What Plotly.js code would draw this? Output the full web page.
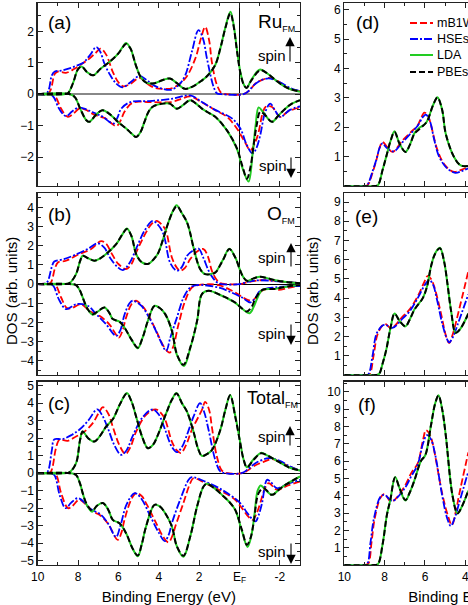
<!DOCTYPE html>
<html>
<head>
<meta charset="utf-8">
<script src="https://cdn.plot.ly/plotly-3.0.1.min.js"></script>
<style>
  html, body { margin: 0; padding: 0; overflow: hidden; background: #fff; }
  #plot { width: 620px; height: 605px; }
</style>
</head>
<body>
<div id="plot"></div>
<script>
// [binding energy (eV), DOS]

// (a) Ru, spin up
const ruUpMB1WC = [[10,0],[9.5,0],[9.35,0.15],[9.15,0.65],[9.0,0.72],[8.6,0.68],[8.2,0.8],[7.9,0.93],[7.5,1.1],[7.15,1.3],[6.88,1.45],[6.6,1.25],[6.28,0.71],[6.0,0.38],[5.75,0.25],[5.4,0.33],[4.95,0.52],[4.6,0.35],[4.2,0.2],[3.8,0.17],[3.3,0.2],[2.69,0.5],[2.19,1.13],[1.9,1.8],[1.7,2.14],[1.5,1.7],[1.37,1.03],[1.12,0.3],[0.87,0.02],[0.7,0],[-0.2,0],[-0.5,0.12],[-0.79,0.34],[-1.1,0.45],[-1.55,0.52],[-2.0,0.38],[-2.44,0.18],[-3,0.1]];
const ruUpHSEsol = [[10,0],[9.6,0],[9.45,0.15],[9.3,0.6],[9.15,0.72],[8.8,0.75],[8.43,0.82],[8.1,0.9],[7.74,1.0],[7.4,1.25],[7.1,1.5],[6.9,1.35],[6.69,0.97],[6.4,0.6],[6.11,0.34],[5.8,0.22],[5.4,0.38],[4.96,0.58],[4.6,0.45],[4.3,0.3],[3.85,0.18],[3.38,0.14],[3.0,0.3],[2.69,0.6],[2.36,1.35],[2.03,2.04],[1.8,1.75],[1.61,1.13],[1.28,0.23],[1.12,0.03],[0.9,0],[-0.2,0],[-0.45,0.1],[-0.7,0.28],[-1.0,0.42],[-1.45,0.5],[-2.0,0.38],[-2.5,0.2],[-3,0.1]];
const ruUpLDA = [[10,0],[8.7,0],[8.5,0.03],[8.25,0.35],[8.0,0.8],[7.82,0.88],[7.55,0.7],[7.25,0.6],[6.9,0.8],[6.4,1.05],[6.0,1.3],[5.75,1.54],[5.62,1.63],[5.4,1.45],[5.15,0.95],[4.9,0.55],[4.6,0.36],[4.2,0.35],[3.8,0.45],[3.45,0.5],[3.1,0.35],[2.7,0.17],[2.3,0.25],[1.9,0.42],[1.6,0.58],[1.2,0.93],[0.95,1.45],[0.7,2.12],[0.45,2.62],[0.3,2.25],[0.12,1.4],[-0.05,0.68],[-0.22,0.3],[-0.35,0.2],[-0.6,0.47],[-1.0,0.78],[-1.4,0.65],[-1.78,0.45],[-2.1,0.3],[-2.44,0.18],[-3,0.08]];
const ruUpPBEsol = [[10,0],[8.7,0],[8.5,0.03],[8.25,0.35],[8.0,0.8],[7.82,0.88],[7.55,0.7],[7.25,0.6],[6.9,0.8],[6.4,1.05],[6.0,1.3],[5.75,1.52],[5.62,1.6],[5.4,1.45],[5.15,0.95],[4.9,0.55],[4.6,0.36],[4.2,0.35],[3.8,0.45],[3.45,0.5],[3.1,0.35],[2.7,0.17],[2.3,0.25],[1.9,0.42],[1.6,0.58],[1.2,0.93],[0.95,1.45],[0.7,2.1],[0.45,2.57],[0.3,2.2],[0.12,1.35],[-0.05,0.66],[-0.22,0.29],[-0.35,0.2],[-0.6,0.45],[-1.03,0.76],[-1.4,0.65],[-1.78,0.45],[-2.1,0.3],[-2.44,0.18],[-3,0.08]];
// (a) Ru, spin down
const ruDnMB1WC = [[10,0],[9.3,0],[9.1,-0.1],[8.85,-0.45],[8.51,-0.72],[8.2,-0.6],[7.94,-0.46],[7.6,-0.5],[7.35,-0.6],[7.0,-0.7],[6.61,-0.78],[6.3,-0.95],[6.1,-1.02],[5.9,-0.85],[5.7,-0.56],[5.29,-0.27],[4.46,-0.25],[3.38,-0.25],[2.85,-0.14],[2.44,-0.07],[1.86,-0.26],[1.2,-0.51],[0.62,-0.72],[0.12,-1.1],[-0.25,-1.5],[-0.54,-1.78],[-0.8,-1.5],[-0.95,-1.2],[-1.15,-0.6],[-1.3,-0.4],[-1.6,-0.4],[-2.02,-0.72],[-2.4,-0.55],[-3,-0.42]];
const ruDnHSEsol = [[10,0],[9.4,0],[9.2,-0.1],[8.95,-0.45],[8.6,-0.7],[8.3,-0.55],[8.0,-0.43],[7.6,-0.48],[7.35,-0.55],[7.0,-0.65],[6.77,-0.72],[6.45,-0.88],[6.25,-0.94],[6.05,-0.75],[5.86,-0.46],[5.4,-0.25],[4.46,-0.22],[3.3,-0.14],[2.44,-0.04],[1.86,-0.25],[1.2,-0.5],[0.37,-0.77],[-0.05,-1.1],[-0.35,-1.6],[-0.65,-1.89],[-0.85,-1.7],[-1.03,-1.3],[-1.28,-0.56],[-1.53,-0.3],[-1.75,-0.5],[-2.02,-0.72],[-2.5,-0.5],[-3,-0.39]];
const ruDnLDA = [[10,0],[8.4,0],[8.15,-0.1],[7.9,-0.45],[7.6,-0.82],[7.44,-0.88],[7.1,-0.65],[6.8,-0.51],[6.5,-0.6],[6.28,-0.72],[5.9,-0.95],[5.6,-1.1],[5.35,-1.25],[5.12,-1.36],[4.9,-1.2],[4.71,-0.88],[4.5,-0.55],[4.3,-0.4],[3.8,-0.3],[3.45,-0.3],[3.1,-0.46],[2.8,-0.35],[2.44,-0.19],[2.15,-0.3],[1.86,-0.46],[1.5,-0.6],[1.2,-0.72],[0.62,-1.15],[0.12,-1.75],[-0.15,-2.35],[-0.45,-2.78],[-0.65,-1.9],[-0.8,-1.0],[-0.95,-0.42],[-1.15,-0.55],[-1.6,-0.88],[-1.9,-0.7],[-2.27,-0.46],[-2.6,-0.3],[-3,-0.19]];
const ruDnPBEsol = [[10,0],[8.4,0],[8.15,-0.1],[7.9,-0.45],[7.6,-0.82],[7.44,-0.88],[7.1,-0.65],[6.8,-0.51],[6.5,-0.6],[6.28,-0.72],[5.9,-0.95],[5.6,-1.1],[5.35,-1.25],[5.12,-1.36],[4.9,-1.2],[4.71,-0.88],[4.5,-0.55],[4.3,-0.4],[3.8,-0.3],[3.45,-0.3],[3.1,-0.46],[2.8,-0.35],[2.44,-0.19],[2.15,-0.3],[1.86,-0.46],[1.5,-0.6],[1.2,-0.72],[0.62,-1.15],[0.12,-1.73],[-0.15,-2.3],[-0.37,-2.69],[-0.55,-2.3],[-0.7,-1.63],[-0.85,-1.0],[-1.03,-0.56],[-1.25,-0.65],[-1.61,-0.88],[-1.9,-0.7],[-2.27,-0.46],[-2.6,-0.3],[-3,-0.19]];

// (b) O, spin up
const oUpMB1WC = [[10,0],[9.5,0],[9.34,0.1],[9.15,0.8],[9.0,1.13],[8.6,1.22],[7.94,1.57],[7.35,1.83],[6.86,2.25],[6.6,2.1],[6.36,1.65],[6.0,1.05],[5.62,0.79],[5.35,1.05],[5.12,1.65],[4.63,2.7],[4.35,3.15],[4.1,3.3],[3.85,3.1],[3.65,2.8],[3.35,1.39],[3.1,0.85],[2.94,0.7],[2.7,0.85],[2.44,1.31],[2.1,1.7],[1.78,1.83],[1.55,1.4],[1.37,0.7],[1.15,0.25],[0.95,0.05],[0.7,0],[0,0],[-0.4,0.1],[-1.0,0.2],[-1.5,0.2],[-2.2,0.12],[-3,0.05]];
const oUpHSEsol = [[10,0],[9.65,0],[9.5,0.15],[9.3,0.9],[9.18,1.18],[8.7,1.3],[8.1,1.55],[7.5,1.85],[7.02,2.13],[6.7,1.9],[6.4,1.35],[6.05,0.9],[5.78,0.73],[5.45,1.1],[5.1,1.9],[4.7,2.8],[4.3,3.3],[4.0,3.05],[3.8,2.7],[3.68,2.27],[3.43,1.1],[3.1,0.7],[2.85,0.9],[2.6,1.48],[2.3,1.75],[2.03,1.86],[1.8,1.4],[1.53,0.7],[1.3,0.3],[1.12,0.1],[0.9,0],[0,0],[-0.4,0.12],[-1.0,0.2],[-1.5,0.18],[-2.2,0.12],[-3,0.05]];
const oUpLDA = [[10,0],[8.7,0],[8.43,0.05],[8.1,0.52],[7.9,1.2],[7.77,1.48],[7.5,1.35],[7.19,1.22],[6.9,1.35],[6.61,1.57],[6.11,2.09],[5.8,2.6],[5.58,2.9],[5.35,2.5],[5.12,1.57],[4.85,1.15],[4.54,1.05],[4.25,1.3],[4.04,1.6],[3.8,2.3],[3.55,3.14],[3.3,3.82],[3.12,4.12],[2.85,3.7],[2.6,3.23],[2.45,2.7],[2.28,1.92],[1.95,0.79],[1.7,0.52],[1.2,0.62],[0.95,1.02],[0.79,1.33],[0.5,1.85],[0.21,1.4],[-0.04,0.7],[-0.2,0.35],[-0.37,0.17],[-0.7,0.3],[-1.03,0.38],[-1.4,0.3],[-1.78,0.2],[-2.4,0.1],[-3,0.05]];
const oUpPBEsol = [[10,0],[8.7,0],[8.43,0.05],[8.1,0.52],[7.9,1.2],[7.77,1.48],[7.5,1.35],[7.19,1.22],[6.9,1.35],[6.61,1.57],[6.11,2.09],[5.8,2.6],[5.58,2.88],[5.35,2.5],[5.12,1.57],[4.85,1.15],[4.54,1.05],[4.25,1.3],[4.04,1.6],[3.8,2.3],[3.55,3.14],[3.3,3.8],[3.1,4.08],[2.85,3.7],[2.6,3.23],[2.45,2.7],[2.28,1.92],[1.95,0.79],[1.7,0.52],[1.2,0.6],[0.95,1.0],[0.79,1.31],[0.5,1.83],[0.21,1.39],[-0.04,0.7],[-0.2,0.35],[-0.37,0.17],[-0.7,0.3],[-1.03,0.38],[-1.4,0.3],[-1.78,0.2],[-2.4,0.1],[-3,0.05]];
// (b) O, spin down
const oDnMB1WC = [[10,0],[9.3,0],[9.09,-0.1],[8.84,-0.7],[8.55,-1.25],[8.3,-1.25],[7.85,-1.05],[7.44,-1.4],[6.94,-1.66],[6.45,-2.1],[6.2,-2.5],[5.98,-2.8],[5.8,-2.45],[5.62,-1.75],[5.35,-1.05],[5.12,-0.87],[4.9,-1.05],[4.63,-1.4],[4.13,-2.44],[3.72,-3.32],[3.47,-3.58],[3.3,-3.32],[3.02,-2.1],[2.69,-0.87],[2.36,-0.18],[2.03,-0.05],[1.04,-0.05],[0.37,-0.35],[-0.04,-0.61],[-0.4,-0.82],[-0.62,-0.87],[-0.85,-0.65],[-1.12,-0.35],[-1.61,-0.22],[-1.94,-0.3],[-2.4,-0.2],[-3,-0.08]];
const oDnHSEsol = [[10,0],[9.4,0],[9.22,-0.1],[8.95,-0.8],[8.6,-1.31],[8.35,-1.2],[8.1,-1.05],[7.52,-1.13],[7.1,-1.57],[6.61,-2.1],[6.11,-2.71],[5.9,-2.4],[5.7,-1.6],[5.45,-1.0],[5.29,-0.87],[4.87,-1.13],[4.3,-2.1],[3.9,-3.0],[3.63,-3.49],[3.43,-2.8],[3.1,-1.75],[2.77,-0.7],[2.44,-0.18],[2.11,-0.05],[1.04,-0.18],[0.37,-0.45],[-0.13,-0.7],[-0.54,-0.96],[-0.8,-0.7],[-1.03,-0.35],[-1.78,-0.17],[-3,-0.1]];
const oDnLDA = [[10,0],[8.4,0],[8.1,-0.05],[7.9,-0.35],[7.77,-0.7],[7.52,-1.31],[7.27,-1.6],[7.0,-1.42],[6.69,-1.22],[6.45,-1.5],[6.28,-1.83],[5.95,-1.96],[5.7,-2.27],[5.35,-2.9],[5.04,-3.35],[4.8,-2.8],[4.54,-1.92],[4.21,-1.14],[3.95,-1.25],[3.68,-1.57],[3.35,-2.44],[3.1,-3.7],[2.75,-4.28],[2.44,-3.35],[2.1,-1.92],[1.86,-0.52],[1.53,-0.35],[0.87,-0.61],[0.21,-0.98],[-0.15,-1.3],[-0.5,-1.52],[-0.7,-1.2],[-0.9,-0.7],[-1.12,-0.31],[-1.78,-0.25],[-2.4,-0.12],[-3,-0.05]];
const oDnPBEsol = [[10,0],[8.4,0],[8.1,-0.05],[7.9,-0.35],[7.77,-0.7],[7.52,-1.31],[7.27,-1.57],[7.0,-1.4],[6.69,-1.22],[6.45,-1.5],[6.28,-1.83],[5.95,-1.96],[5.7,-2.27],[5.35,-2.9],[5.04,-3.32],[4.8,-2.8],[4.54,-1.92],[4.21,-1.14],[3.95,-1.25],[3.68,-1.57],[3.35,-2.44],[3.1,-3.66],[2.78,-4.22],[2.44,-3.32],[2.1,-1.92],[1.86,-0.52],[1.53,-0.35],[0.87,-0.61],[0.21,-0.96],[-0.1,-1.25],[-0.37,-1.43],[-0.6,-1.2],[-0.78,-0.78],[-1.12,-0.31],[-1.78,-0.25],[-2.4,-0.12],[-3,-0.05]];

// (c) Total, spin up
const totUpMB1WC = [[10,0],[9.5,0],[9.34,0.1],[9.1,1.4],[8.93,1.9],[8.51,1.85],[8.1,2.1],[7.77,2.3],[7.27,2.86],[6.95,3.5],[6.77,3.78],[6.5,3.4],[6.28,2.66],[5.95,1.6],[5.65,1.1],[5.4,1.5],[5.12,2.38],[4.63,3.33],[4.16,3.65],[3.9,3.45],[3.68,3.05],[3.35,1.81],[3.1,1.3],[2.9,1.15],[2.65,1.6],[2.36,2.47],[1.86,3.62],[1.7,4.08],[1.5,3.6],[1.37,2.66],[1.12,0.95],[0.87,0.15],[0.6,0],[-0.12,0],[-0.4,0.15],[-0.79,0.45],[-1.2,0.65],[-1.61,0.8],[-2.0,0.65],[-2.44,0.4],[-3,0.15]];
const totUpHSEsol = [[10,0],[9.65,0],[9.5,0.1],[9.3,1.3],[9.18,1.93],[8.76,1.95],[8.3,2.2],[7.94,2.48],[7.5,3.0],[7.05,3.65],[6.8,3.3],[6.5,2.5],[6.2,1.6],[5.87,1.05],[5.6,1.3],[5.3,2.1],[4.8,3.2],[4.3,3.65],[4.0,3.35],[3.68,2.47],[3.35,1.5],[3.1,1.2],[2.85,1.5],[2.6,2.19],[2.28,3.23],[1.95,4.0],[1.75,3.5],[1.53,2.47],[1.2,0.76],[0.95,0.1],[0.7,0],[-0.1,0],[-0.4,0.2],[-0.79,0.57],[-1.45,0.86],[-2.0,0.7],[-2.44,0.42],[-3,0.15]];
const totUpLDA = [[10,0],[8.7,0],[8.43,0.05],[8.1,0.57],[7.9,1.9],[7.77,2.38],[7.5,2.0],[7.19,1.81],[6.9,2.15],[6.61,2.66],[6.28,3.08],[5.9,4.0],[5.58,4.58],[5.35,4.1],[5.12,3.23],[4.8,2.0],[4.54,1.43],[4.3,1.6],[4.04,2.19],[3.63,3.43],[3.35,4.2],[3.12,4.58],[2.85,4.0],[2.6,3.52],[2.28,2.38],[2.05,1.4],[1.86,0.99],[1.6,1.1],[1.36,1.33],[0.95,2.47],[0.7,3.62],[0.46,4.47],[0.21,3.3],[-0.04,1.75],[-0.2,0.8],[-0.37,0.34],[-0.7,0.8],[-1.07,1.16],[-1.4,1.0],[-1.78,0.76],[-2.44,0.34],[-3,0.15]];
const totUpPBEsol = [[10,0],[8.7,0],[8.43,0.05],[8.1,0.57],[7.9,1.9],[7.77,2.38],[7.5,2.0],[7.19,1.81],[6.9,2.15],[6.61,2.66],[6.28,3.08],[5.9,4.0],[5.58,4.55],[5.35,4.1],[5.12,3.23],[4.8,2.0],[4.54,1.43],[4.3,1.6],[4.04,2.19],[3.63,3.43],[3.35,4.2],[3.12,4.55],[2.85,4.0],[2.6,3.52],[2.28,2.38],[2.05,1.4],[1.86,0.99],[1.6,1.1],[1.36,1.33],[0.95,2.47],[0.7,3.62],[0.46,4.45],[0.21,3.23],[-0.04,1.71],[-0.2,0.8],[-0.37,0.34],[-0.7,0.76],[-1.07,1.14],[-1.4,1.0],[-1.78,0.76],[-2.44,0.34],[-3,0.15]];
// (c) Total, spin down
const totDnMB1WC = [[10,0],[9.3,0],[9.09,-0.1],[8.84,-1.14],[8.5,-2.0],[8.3,-1.9],[7.94,-1.52],[7.6,-1.8],[7.27,-2.19],[6.94,-2.38],[6.53,-2.86],[6.03,-3.81],[5.85,-3.4],[5.7,-2.67],[5.37,-1.52],[5.12,-1.14],[4.85,-1.3],[4.63,-1.71],[4.13,-2.86],[3.8,-3.6],[3.52,-3.95],[3.3,-3.5],[3.18,-3.05],[2.78,-1.71],[2.44,-0.57],[2.28,-0.29],[1.7,-0.57],[0.87,-1.05],[0.21,-1.52],[-0.12,-2.0],[-0.45,-2.5],[-0.65,-2.67],[-0.85,-2.3],[-1.03,-1.71],[-1.25,-0.9],[-1.45,-0.57],[-1.86,-0.95],[-2.4,-0.7],[-3,-0.48]];
const totDnHSEsol = [[10,0],[9.4,0],[9.18,-0.1],[8.9,-1.3],[8.62,-2.0],[8.35,-1.7],[8.02,-1.43],[7.7,-1.65],[7.44,-2.0],[6.86,-2.38],[6.5,-2.9],[6.12,-3.65],[5.9,-3.0],[5.6,-1.8],[5.2,-1.14],[4.9,-1.4],[4.4,-2.5],[4.0,-3.4],[3.7,-3.88],[3.5,-3.5],[3.35,-2.86],[2.94,-1.52],[2.52,-0.38],[2.36,-0.23],[1.7,-0.48],[0.87,-0.95],[-0.04,-1.71],[-0.4,-2.3],[-0.79,-2.76],[-0.95,-2.4],[-1.12,-1.7],[-1.37,-0.38],[-1.55,-0.5],[-1.86,-0.86],[-2.4,-0.6],[-3,-0.38]];
const totDnLDA = [[10,0],[8.4,0],[8.1,-0.1],[7.9,-0.6],[7.77,-1.14],[7.6,-1.75],[7.44,-2.05],[7.3,-2.2],[7.05,-1.85],[6.77,-1.71],[6.5,-2.1],[6.28,-2.67],[5.95,-2.86],[5.62,-3.43],[5.3,-4.3],[5.04,-4.75],[4.85,-4.1],[4.63,-3.05],[4.21,-1.81],[3.95,-1.9],[3.68,-2.29],[3.35,-3.05],[3.1,-4.19],[2.78,-4.78],[2.44,-3.62],[2.1,-1.9],[1.78,-0.76],[1.61,-0.61],[1.2,-0.9],[0.87,-1.24],[0.5,-1.65],[0.21,-2.1],[-0.12,-3.3],[-0.4,-4.22],[-0.6,-3.5],[-0.75,-2.3],[-0.9,-1.0],[-1.05,-0.7],[-1.25,-0.9],[-1.61,-1.24],[-1.95,-0.95],[-2.27,-0.67],[-3,-0.19]];
const totDnPBEsol = [[10,0],[8.4,0],[8.1,-0.1],[7.9,-0.6],[7.77,-1.14],[7.6,-1.7],[7.44,-2.0],[7.3,-2.15],[7.05,-1.85],[6.77,-1.71],[6.5,-2.1],[6.28,-2.67],[5.95,-2.86],[5.62,-3.43],[5.3,-4.3],[5.04,-4.7],[4.85,-4.1],[4.63,-3.05],[4.21,-1.81],[3.95,-1.9],[3.68,-2.29],[3.35,-3.05],[3.1,-4.19],[2.78,-4.72],[2.44,-3.62],[2.1,-1.9],[1.78,-0.76],[1.61,-0.61],[1.2,-0.9],[0.87,-1.24],[0.5,-1.65],[0.21,-2.1],[-0.12,-3.24],[-0.37,-4.1],[-0.55,-3.7],[-0.7,-2.86],[-0.95,-1.14],[-1.2,-0.86],[-1.61,-1.24],[-1.95,-0.95],[-2.27,-0.67],[-3,-0.19]];

// (d)-(f) right column, visible part only
const dMB1WC = [[10,0],[8.95,0],[8.82,0.05],[8.6,0.45],[8.41,0.88],[8.25,1.3],[8.11,1.5],[7.9,1.35],[7.62,1.16],[7.1,1.56],[6.69,1.84],[6.36,2.07],[6.2,2.3],[6.03,2.5],[5.85,2.4],[5.7,2.07],[5.38,1.22],[5.0,0.7],[4.56,0.48],[4.2,0.55],[3.85,0.65]];
const dHSEsol = [[10,0],[9.0,0],[8.85,0.05],[8.6,0.5],[8.41,0.9],[8.25,1.3],[8.11,1.45],[7.9,1.3],[7.55,1.18],[7.1,1.5],[6.69,1.8],[6.36,2.05],[6.1,2.35],[5.95,2.43],[5.75,2.2],[5.55,1.6],[5.3,1.0],[4.9,0.6],[4.5,0.45],[4.2,0.5],[3.85,0.6]];
const dLDA = [[10,0],[8.5,0],[8.33,0.03],[8.1,0.55],[7.92,1.0],[7.7,1.55],[7.51,1.86],[7.26,1.44],[6.97,1.16],[6.75,1.4],[6.52,1.8],[6.28,1.98],[5.95,2.15],[5.6,2.75],[5.38,3.02],[5.15,2.6],[4.97,1.78],[4.56,0.99],[4.23,0.7],[3.85,0.68]];
const dPBEsol = [[10,0],[8.5,0],[8.33,0.03],[8.1,0.55],[7.92,1.0],[7.7,1.55],[7.51,1.84],[7.26,1.44],[6.97,1.16],[6.75,1.4],[6.52,1.78],[6.2,1.98],[5.9,2.2],[5.6,2.75],[5.38,3.01],[5.15,2.6],[4.97,1.78],[4.56,0.99],[4.23,0.7],[3.85,0.68]];
const eMB1WC = [[10,0],[8.9,0],[8.74,0.05],[8.55,1.0],[8.33,2.18],[8.0,2.66],[7.67,2.44],[7.1,3.05],[6.77,3.4],[6.36,4.09],[6.05,4.8],[5.87,5.15],[5.7,5.0],[5.54,4.6],[5.21,3.22],[4.95,2.0],[4.8,1.66],[4.6,2.2],[4.39,3.05],[3.85,5.4]];
const eHSEsol = [[10,0],[8.95,0],[8.8,0.05],[8.6,1.0],[8.38,2.2],[8.0,2.62],[7.62,2.45],[7.1,2.95],[6.77,3.3],[6.36,4.0],[6.0,4.7],[5.79,4.95],[5.6,4.7],[5.4,3.9],[5.15,2.7],[4.9,1.85],[4.8,1.7],[4.6,2.0],[4.39,2.6],[3.85,4.2]];
const eLDA = [[10,0],[8.45,0],[8.28,0.05],[8.1,0.6],[7.92,1.31],[7.7,2.5],[7.51,3.2],[7.25,2.8],[6.97,2.53],[6.75,2.9],[6.52,3.42],[6.11,4.0],[5.9,4.6],[5.7,5.65],[5.5,6.32],[5.26,6.62],[5.05,5.9],[4.89,4.78],[4.7,3.3],[4.48,2.2],[4.25,2.4],[3.85,3.2]];
const ePBEsol = [[10,0],[8.45,0],[8.28,0.05],[8.1,0.6],[7.92,1.31],[7.7,2.5],[7.51,3.19],[7.25,2.8],[6.97,2.53],[6.75,2.9],[6.52,3.4],[6.11,4.0],[5.9,4.6],[5.7,5.65],[5.5,6.3],[5.26,6.6],[5.05,5.9],[4.89,4.78],[4.7,3.3],[4.48,2.2],[4.25,2.4],[3.85,3.2]];
const fMB1WC = [[10,0],[8.95,0],[8.8,0.1],[8.65,1.3],[8.49,2.69],[8.2,3.9],[8.0,4.1],[7.67,3.65],[7.02,4.52],[6.69,5.29],[6.36,5.87],[6.1,7.2],[5.95,7.78],[5.75,7.5],[5.62,7.02],[5.13,4.04],[4.85,2.8],[4.67,2.31],[4.45,3.2],[4.31,4.04],[3.85,6.5]];
const fHSEsol = [[10,0],[9.0,0],[8.85,0.1],[8.7,1.3],[8.52,2.75],[8.2,3.95],[8.0,4.05],[7.62,3.7],[7.02,4.4],[6.69,5.1],[6.36,5.8],[6.1,7.0],[5.9,7.5],[5.7,7.25],[5.5,6.4],[5.13,3.9],[4.9,2.7],[4.72,2.25],[4.5,2.8],[4.3,3.6],[3.85,5.4]];
const fLDA = [[10,0],[8.5,0],[8.33,0.05],[8.1,1.2],[7.89,2.88],[7.72,3.75],[7.48,5.08],[7.25,4.4],[6.97,3.72],[6.75,4.2],[6.52,4.9],[6.2,6.0],[5.98,6.35],[5.7,8.08],[5.5,9.3],[5.33,9.8],[5.15,9.0],[4.97,7.5],[4.64,4.04],[4.39,2.98],[4.2,3.3],[3.85,4.3]];
const fPBEsol = [[10,0],[8.5,0],[8.33,0.05],[8.1,1.2],[7.89,2.88],[7.72,3.75],[7.48,5.05],[7.25,4.4],[6.97,3.75],[6.75,4.2],[6.52,4.9],[6.2,6.0],[5.98,6.35],[5.7,8.08],[5.5,9.3],[5.33,9.78],[5.15,9.0],[4.97,7.5],[4.64,4.04],[4.39,2.98],[4.2,3.3],[3.85,4.3]];

const energyTicks = [10, 8, 6, 4, 2, 0, -2];
const energyLabels = ['10', '8', '6', '4', '2', 'E<sub>F</sub>', '-2'];
const names = ['mB1WC', 'HSEsol', 'LDA', 'PBEsol'];

const styles = {
  mB1WC:  {color: '#ff0000', dash: '7px,3px', width: 1.8},
  HSEsol: {color: '#0000ff', dash: '8px,2px,2px,2px', width: 1.8},
  LDA:    {color: '#22cc22', dash: 'solid', width: 2.0},
  PBEsol: {color: '#000000', dash: '6px,3px', width: 2.0}
};

const W = 620, H = 605;
const FONT = 'Liberation Sans, Arial, sans-serif';
const px = (x) => x / W;
const py = (y) => 1 - y / H;

const traces = [];
const addCurve = (pts, name, xa, ya) => {
  traces.push({
    x: pts.map(p => p[0]),
    y: pts.map(p => p[1]),
    type: 'scatter',
    mode: 'lines',
    name: name,
    xaxis: xa,
    yaxis: ya,
    showlegend: false,
    hoverinfo: 'skip',
    line: Object.assign({shape: 'spline', smoothing: 1}, styles[name])
  });
};

const panels = [
  ['x', 'y', [ruUpMB1WC, ruUpHSEsol, ruUpLDA, ruUpPBEsol], [ruDnMB1WC, ruDnHSEsol, ruDnLDA, ruDnPBEsol]],
  ['x2', 'y2', [oUpMB1WC, oUpHSEsol, oUpLDA, oUpPBEsol], [oDnMB1WC, oDnHSEsol, oDnLDA, oDnPBEsol]],
  ['x3', 'y3', [totUpMB1WC, totUpHSEsol, totUpLDA, totUpPBEsol], [totDnMB1WC, totDnHSEsol, totDnLDA, totDnPBEsol]],
  ['x4', 'y4', [dMB1WC, dHSEsol, dLDA, dPBEsol], []],
  ['x5', 'y5', [eMB1WC, eHSEsol, eLDA, ePBEsol], []],
  ['x6', 'y6', [fMB1WC, fHSEsol, fLDA, fPBEsol], []]
];
panels.forEach(([xa, ya, ups, dns]) => {
  names.forEach((n, i) => {
    addCurve(ups[i], n, xa, ya);
    if (dns.length) addCurve(dns[i], n, xa, ya);
  });
});

const leftX = [px(37.7), px(300)];
const rightX = [px(344.3), px(606.5)];
const rows = [[py(186), py(3)], [py(375), py(193)], [py(565), py(381.7)]];

const xAxis = (dom, anchor, labels, zero) => ({
  domain: dom, anchor: anchor, range: [10, -3],
  tickmode: 'array', tickvals: energyTicks, ticktext: energyLabels,
  showticklabels: labels, ticks: 'inside', ticklen: 5, tickwidth: 1, tickcolor: '#222',
  minor: {tickmode: 'array', tickvals: [9, 7, 5, 3, 1, -1], ticks: 'inside', ticklen: 3, tickcolor: '#222'},
  mirror: 'ticks', showline: true, linecolor: '#222', linewidth: 1.3,
  showgrid: false, zeroline: zero, zerolinecolor: '#000', zerolinewidth: 1,
  tickfont: {family: FONT, size: 12, color: '#000'}
});
const yAxis = (dom, anchor, range, vals, zero) => ({
  domain: dom, anchor: anchor, range: range,
  tickmode: 'array', tickvals: vals,
  ticks: 'inside', ticklen: 5, tickwidth: 1, tickcolor: '#222',
  minor: {dtick: 0.5, ticks: 'inside', ticklen: 3, tickcolor: '#222'},
  mirror: 'ticks', showline: true, linecolor: '#222', linewidth: 1.3,
  showgrid: false, zeroline: !!zero, zerolinecolor: zero || '#000', zerolinewidth: zero === '#888' ? 2 : 1.2,
  tickfont: {family: FONT, size: 12, color: '#000'}
});
const titleFont = {family: FONT, size: 15, color: '#000'};

const layout = {
  width: W, height: H,
  margin: {l: 0, r: 0, t: 0, b: 0},
  paper_bgcolor: '#fff', plot_bgcolor: '#fff',
  font: {family: FONT, color: '#000'},
  showlegend: false,
  xaxis: xAxis(leftX, 'y', false, true),
  xaxis2: xAxis(leftX, 'y2', false, true),
  xaxis3: Object.assign(xAxis(leftX, 'y3', true, true),
    {title: {text: 'Binding Energy (eV)', font: titleFont, standoff: 8}}),
  xaxis4: xAxis(rightX, 'y4', false, false),
  xaxis5: xAxis(rightX, 'y5', false, false),
  xaxis6: Object.assign(xAxis(rightX, 'y6', true, false),
    {title: {text: 'Binding Energy (eV)', font: titleFont, standoff: 8}}),
  yaxis: yAxis(rows[0], 'x', [-2.92, 2.9], [-2, -1, 0, 1, 2], '#888'),
  yaxis2: yAxis(rows[1], 'x2', [-4.75, 4.76], [-4, -3, -2, -1, 0, 1, 2, 3, 4], '#000'),
  yaxis3: yAxis(rows[2], 'x3', [-5.25, 5.23], [-5, -4, -3, -2, -1, 0, 1, 2, 3, 4, 5], '#000'),
  yaxis4: yAxis(rows[0], 'x4', [0, 6.23], [1, 2, 3, 4, 5, 6]),
  yaxis5: yAxis(rows[1], 'x5', [0, 9.47], [1, 2, 3, 4, 5, 6, 7, 8, 9]),
  yaxis6: yAxis(rows[2], 'x6', [0, 10.58], [1, 2, 3, 4, 5, 6, 7, 8, 9, 10]),
  annotations: [],
  shapes: []
};

const note = (text, x, y, size, anchor, angle) => layout.annotations.push({
  text: text, xref: 'paper', yref: 'paper', x: px(x), y: py(y),
  xanchor: anchor || 'left', yanchor: 'middle', showarrow: false, textangle: angle || 0,
  font: {family: FONT, size: size, color: '#000'}
});
const arrow = (x, yHead, dy) => layout.annotations.push({
  text: '', xref: 'paper', yref: 'paper', x: px(x), y: py(yHead),
  ax: 0, ay: dy, showarrow: true, arrowhead: 2, arrowsize: 1.7, arrowwidth: 1.1, arrowcolor: '#000'
});

// y titles shared by the three panels of each column
note('DOS (arb. units)', 11, 291, 15, 'center', -90);
note('DOS (arb. units)', 312, 291, 15, 'center', -90);

note('(a)', 46, 23, 19); note('(b)', 46, 215, 19); note('(c)', 46, 403, 19);
note('(d)', 354, 22, 19); note('(e)', 353, 216, 19); note('(f)', 356, 404, 19);

const sub = (s) => `<sub><span style="font-size:9px">${s}</span></sub>`;
note('Ru' + sub('FM'), 297, 23, 19, 'right');
note('O' + sub('FM'), 297, 214, 19, 'right');
note('Total' + sub('FM'), 300, 399, 18, 'right');

note('spin', 256, 56, 15); arrow(290, 37, 26);
note('spin', 257, 166, 15); arrow(291, 178, -22);
note('spin', 256, 257, 15); arrow(291, 243, 25);
note('spin', 256, 333, 15); arrow(291, 345, -22);
note('spin', 256, 437, 15); arrow(290, 426, 21);
note('spin', 256, 551, 15); arrow(291, 564, -22);

// legend of panel (d), laid out as in the figure
const legendRows = [23, 39, 55, 72];
names.forEach((n, i) => {
  const s = styles[n];
  layout.shapes.push({
    type: 'line', xref: 'paper', yref: 'paper',
    x0: px(410), x1: px(433), y0: py(legendRows[i]), y1: py(legendRows[i]),
    line: {color: s.color, width: s.width, dash: s.dash}
  });
  note(n, 435, legendRows[i], 12.5);
});

Plotly.newPlot('plot', traces, layout, {displayModeBar: false, staticPlot: true});
</script>
</body>
</html>
